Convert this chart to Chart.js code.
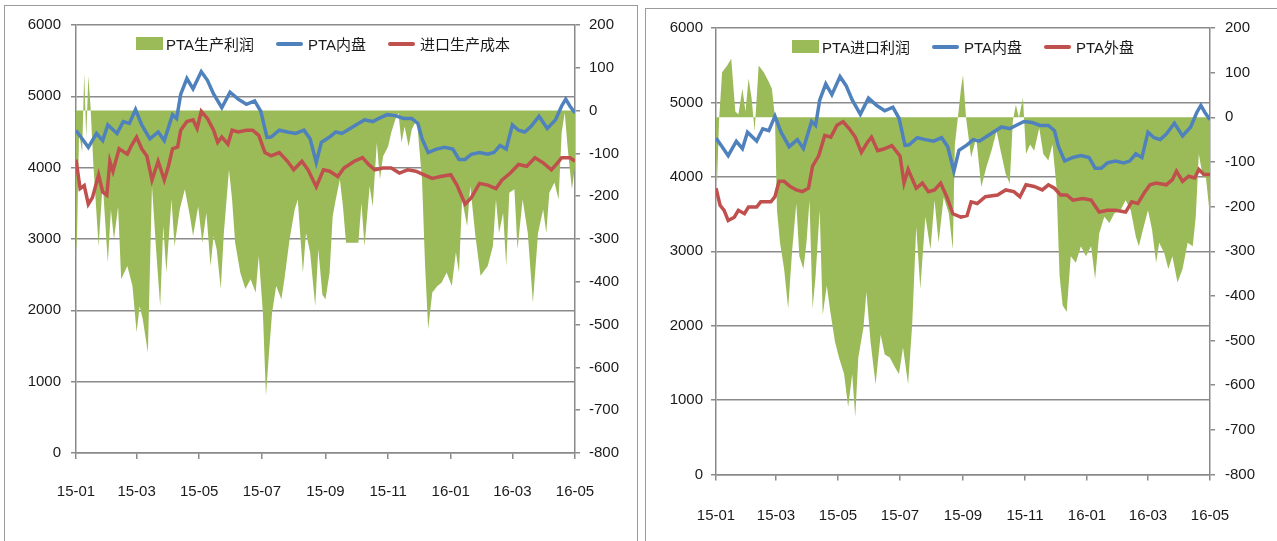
<!DOCTYPE html>
<html>
<head>
<meta charset="utf-8">
<script src="https://cdn.jsdelivr.net/npm/chart.js@4.4.1/dist/chart.umd.min.js"></script>
<style>
  body { margin: 0; background: #fff; width: 1277px; height: 541px; overflow: hidden; position: relative; }
  .panel { position: absolute; border: 1px solid #9a9a9a; box-sizing: border-box; }
  #p1 { left: 4px; top: 5px; width: 634px; height: 560px; }
  #p2 { left: 645px; top: 8px; width: 640px; height: 560px; }
  canvas { position: absolute; }
  #c1 { left: 5px; top: 6px; }
  #c2 { left: 646px; top: 9px; }
  .legend { position: absolute; display: flex; justify-content: center; align-items: center;
            font-family: 'Liberation Sans', 'Noto Sans CJK SC', sans-serif; font-size: 15px; color: #1a1a1a; white-space: nowrap; }
  #l1 { left: 76px; width: 494px; top: 33px; }
  #l2 { left: 716px; width: 494px; top: 36px; }
  .item { display: flex; align-items: center; margin: 0 11px; }
  .box { width: 27px; height: 13px; margin-right: 3px; }
  .line { width: 27px; height: 4px; border-radius: 2px; margin-right: 5px; }
</style>
</head>
<body>
<div class="panel" id="p1"></div>
<div class="panel" id="p2"></div>
<canvas id="c1" width="630" height="530"></canvas>
<canvas id="c2" width="629" height="532"></canvas>
<div class="legend" id="l1"></div>
<div class="legend" id="l2"></div>
<script>
// 横轴刻度
const monthTicks = ['2015-01-01', '2015-03-01', '2015-05-01', '2015-07-01', '2015-09-01', '2015-11-01', '2016-01-01', '2016-03-01', '2016-05-01'];
const monthLabels = ['15-01', '15-03', '15-05', '15-07', '15-09', '15-11', '16-01', '16-03', '16-05'];

// 日期: 距 2015-01-01 的天数
// PTA内盘 (两张图共用)
const neipanDays = [0, 6, 12, 20, 26, 31, 40, 46, 52, 58, 64, 72, 80, 86, 94, 98, 102, 108, 114, 122, 128, 134, 142, 150, 158, 166, 174, 180, 186, 190, 198, 206, 214, 222, 228, 234, 239, 247, 253, 259, 267, 275, 281, 289, 295, 303, 311, 319, 327, 333, 337, 343, 351, 359, 367, 373, 379, 385, 393, 401, 407, 413, 419, 425, 431, 437, 443, 451, 459, 467, 473, 477, 481, 486];
const neipanVals = [4520, 4405, 4285, 4478, 4380, 4600, 4480, 4646, 4620, 4815, 4600, 4405, 4500, 4380, 4743, 4690, 5030, 5250, 5105, 5347, 5225, 5034, 4840, 5057, 4960, 4888, 4935, 4790, 4424, 4430, 4525, 4500, 4480, 4525, 4405, 4074, 4356, 4430, 4500, 4480, 4550, 4620, 4670, 4646, 4690, 4743, 4730, 4690, 4690, 4620, 4405, 4212, 4260, 4285, 4260, 4116, 4116, 4188, 4212, 4188, 4212, 4310, 4260, 4600, 4525, 4500, 4575, 4720, 4550, 4670, 4865, 4960, 4865, 4768];

// 进口生产成本 (左图)
const costDays = [0, 4, 8, 12, 16, 22, 26, 30, 33, 36, 42, 50, 54, 59, 64, 69, 74, 80, 86, 90, 94, 99, 102, 108, 114, 118, 122, 128, 134, 138, 142, 148, 152, 158, 166, 172, 178, 184, 190, 198, 206, 212, 220, 226, 234, 241, 247, 255, 261, 271, 279, 285, 291, 299, 307, 315, 323, 331, 339, 347, 355, 365, 371, 379, 385, 393, 401, 409, 415, 423, 431, 439, 447, 455, 463, 469, 473, 481, 486];
const costVals = [4116, 3706, 3750, 3488, 3580, 3900, 3660, 3615, 4090, 3950, 4265, 4190, 4310, 4430, 4265, 4165, 3827, 4090, 3827, 4020, 4265, 4290, 4525, 4646, 4670, 4550, 4790, 4690, 4525, 4356, 4430, 4330, 4525, 4500, 4525, 4525, 4453, 4212, 4165, 4212, 4090, 3970, 4090, 3970, 3733, 3970, 3950, 3875, 3995, 4090, 4140, 4045, 3970, 3995, 3995, 3925, 3970, 3950, 3900, 3850, 3875, 3900, 3755, 3488, 3580, 3780, 3755, 3706, 3827, 3925, 4045, 4020, 4140, 4067, 3970, 4067, 4140, 4140, 4090];

// PTA生产利润 (左图, 右轴)
const profitDays = [0, 1, 3, 6, 8, 10, 12, 14, 17, 22, 26, 31, 34, 37, 41, 44, 50, 55, 59, 62, 65, 70, 74, 78, 82, 85, 88, 93, 96, 101, 106, 111, 114, 119, 123, 127, 131, 134, 137, 141, 144, 149, 152, 155, 160, 165, 170, 175, 178, 182, 185, 188, 191, 195, 200, 203, 208, 213, 216, 221, 224, 228, 233, 236, 240, 243, 247, 250, 253, 257, 260, 263, 270, 275, 278, 281, 286, 289, 293, 296, 299, 304, 307, 311, 314, 317, 320, 324, 327, 332, 337, 340, 343, 347, 352, 356, 361, 366, 370, 373, 376, 381, 384, 389, 394, 401, 406, 409, 412, 416, 419, 422, 427, 430, 435, 440, 445, 450, 455, 458, 461, 466, 470, 473, 476, 479, 483, 486];
const profitVals = [-330, -296, -52, -98, 88, -64, 80, 16, -130, -317, -169, -355, -231, -301, -224, -394, -363, -410, -518, -457, -487, -565, -177, -324, -457, -270, -378, -208, -317, -231, -184, -247, -293, -224, -309, -239, -363, -293, -324, -417, -286, -138, -208, -309, -378, -417, -394, -425, -340, -472, -667, -565, -472, -410, -441, -394, -301, -231, -208, -378, -286, -331, -457, -324, -430, -441, -378, -247, -208, -161, -224, -309, -309, -309, -216, -317, -177, -224, -75, -161, -107, -84, -52, -21, -5, -75, -37, -84, -44, -21, -161, -363, -511, -425, -410, -402, -378, -410, -331, -378, -208, -270, -177, -293, -386, -363, -317, -208, -286, -239, -363, -192, -184, -324, -208, -286, -449, -286, -231, -286, -192, -168, -208, -52, -5, -91, -184, -130];

// PTA外盘 (右图)
const waipanDays = [0, 4, 8, 12, 18, 22, 28, 32, 40, 44, 54, 58, 62, 67, 73, 79, 85, 91, 95, 101, 107, 113, 119, 125, 131, 137, 143, 149, 153, 159, 165, 173, 181, 185, 189, 197, 203, 209, 215, 221, 227, 233, 241, 247, 251, 257, 265, 277, 285, 293, 299, 305, 313, 321, 327, 333, 339, 345, 351, 361, 369, 377, 385, 393, 403, 409, 415, 421, 427, 433, 443, 449, 453, 459, 465, 471, 475, 480, 486];
const waipanVals = [3847, 3618, 3550, 3412, 3458, 3550, 3504, 3595, 3595, 3664, 3664, 3733, 3939, 3939, 3870, 3824, 3801, 3847, 4145, 4282, 4557, 4534, 4694, 4740, 4649, 4534, 4328, 4465, 4534, 4351, 4374, 4420, 4282, 3916, 4099, 3847, 3916, 3801, 3824, 3916, 3733, 3504, 3458, 3481, 3664, 3641, 3733, 3756, 3824, 3801, 3733, 3893, 3870, 3824, 3893, 3847, 3756, 3756, 3687, 3710, 3687, 3527, 3550, 3550, 3527, 3664, 3641, 3779, 3893, 3916, 3893, 3962, 4076, 3939, 4008, 3985, 4099, 4031, 4031];

// PTA进口利润 (右图, 右轴)
const importDays = [0, 1, 3, 6, 11, 15, 19, 22, 26, 29, 32, 35, 38, 42, 47, 52, 55, 58, 60, 63, 67, 71, 75, 79, 82, 86, 89, 92, 95, 98, 102, 105, 109, 112, 117, 121, 126, 130, 134, 137, 140, 145, 148, 152, 157, 162, 166, 171, 176, 180, 184, 189, 193, 197, 201, 206, 211, 215, 219, 224, 229, 233, 235, 238, 241, 243, 246, 251, 256, 261, 266, 271, 276, 280, 285, 289, 292, 295, 298, 302, 305, 309, 313, 318, 322, 327, 331, 335, 338, 341, 345, 349, 354, 359, 364, 369, 373, 377, 382, 387, 392, 398, 403, 408, 413, 416, 420, 425, 429, 433, 436, 441, 445, 449, 454, 459, 464, 469, 472, 475, 479, 482, 486];
const importVals = [-90, -149, -8, 101, 116, 131, 13, 6, 64, 13, 87, 43, -31, 116, 101, 79, 64, 0, -208, -281, -340, -428, -296, -193, -311, -340, -281, -186, -428, -355, -208, -443, -377, -428, -502, -538, -575, -649, -575, -671, -538, -472, -391, -502, -598, -487, -531, -538, -560, -575, -516, -598, -465, -245, -384, -223, -296, -186, -281, -179, -215, -296, -61, 0, 64, 94, -1, -90, -46, -156, -112, -75, -31, -75, -127, -149, -9, 28, -1, 43, -82, -61, -75, -24, -82, -97, -61, -156, -355, -421, -436, -311, -326, -289, -311, -289, -362, -260, -223, -237, -215, -208, -186, -208, -267, -289, -252, -208, -252, -326, -281, -304, -340, -311, -370, -340, -281, -289, -223, -82, -134, -134, -223];

const VERDE = '#9BBB59', AZUL = '#4F81BD', VERMELHO = '#C0504D', GRADE = '#8a8a8a';
const FONTE = { family: "'Liberation Sans', sans-serif", size: 15 };

const dayOf = s => (Date.UTC(+s.slice(0, 4), +s.slice(5, 7) - 1, +s.slice(8, 10)) - Date.UTC(2015, 0, 1)) / 864e5;
const tickDays = monthTicks.map(dayOf);
const pts = (xs, ys) => xs.map((x, i) => ({ x: x, y: ys[i] }));

function initChart(id, profitLabel, profitX, profitY, redLabel, redX, redY, layout) {
    const ctx = document.getElementById(id).getContext('2d');
    return new Chart(ctx, {
        type: 'line',
        data: {
            datasets: [
                { label: profitLabel, data: pts(profitX, profitY), yAxisID: 'y1', fill: 'origin',
                  backgroundColor: VERDE, borderWidth: 0, pointRadius: 0, order: 3 },
                { label: 'PTA内盘', data: pts(neipanDays, neipanVals), yAxisID: 'y', fill: false,
                  borderColor: AZUL, borderWidth: 3.5, pointRadius: 0, order: 1 },
                { label: redLabel, data: pts(redX, redY), yAxisID: 'y', fill: false,
                  borderColor: VERMELHO, borderWidth: 3.5, pointRadius: 0, order: 2 }
            ]
        },
        options: {
            responsive: false,
            animation: false,
            devicePixelRatio: 1,
            layout: { padding: { top: layout.top, left: 0, right: 0, bottom: 0 } },
            plugins: { legend: { display: false }, tooltip: { enabled: false } },
            scales: {
                x: {
                    type: 'linear', min: 0, max: 486,
                    grid: { drawOnChartArea: false, tickLength: 6, color: GRADE, lineWidth: 1.5 },
                    border: { color: GRADE, width: 1.5 },
                    ticks: { font: FONTE, color: '#1a1a1a', padding: layout.xPad, maxRotation: 0, autoSkip: false,
                             callback: v => monthLabels[tickDays.indexOf(v)] },
                    afterBuildTicks: s => { s.ticks = tickDays.map(v => ({ value: v })); },
                    afterFit: s => { s.height = layout.xH; }
                },
                y: {
                    position: 'left', min: 0, max: 6000,
                    grid: { color: GRADE, lineWidth: 1.5, tickLength: 5 },
                    border: { color: GRADE, width: 1.5 },
                    ticks: { stepSize: 1000, font: FONTE, color: '#1a1a1a', padding: layout.yPad, callback: v => String(v) },
                    afterFit: s => { s.width = layout.yW; }
                },
                y1: {
                    position: 'right', min: -800, max: 200,
                    grid: { drawOnChartArea: false, color: GRADE, lineWidth: 1.5, tickLength: 5 },
                    border: { color: GRADE, width: 1.5 },
                    ticks: { stepSize: 100, font: FONTE, color: '#1a1a1a', padding: layout.y1Pad, callback: v => String(v) },
                    afterFit: s => { s.width = layout.y1W; }
                }
            }
        }
    });
}

// legenda em HTML, por cima da área do gráfico
function buildLegend(id, chart) {
    const el = document.getElementById(id);
    chart.data.datasets.forEach((ds, i) => {
        const item = document.createElement('div');
        item.className = 'item';
        const mark = document.createElement('span');
        mark.className = i === 0 ? 'box' : 'line';
        mark.style.background = i === 0 ? ds.backgroundColor : ds.borderColor;
        const txt = document.createElement('span');
        txt.textContent = ds.label;
        item.appendChild(mark);
        item.appendChild(txt);
        el.appendChild(item);
    });
}

const chart1 = initChart('c1', 'PTA生产利润', profitDays, profitVals, '进口生产成本', costDays, costVals,
    { top: 18, xH: 83, xPad: 24, yW: 71, yPad: 10, y1W: 60, y1Pad: 9 });
const chart2 = initChart('c2', 'PTA进口利润', importDays, importVals, 'PTA外盘', waipanDays, waipanVals,
    { top: 13.5, xH: 66.5, xPad: 26, yW: 70, yPad: 8, y1W: 65, y1Pad: 10 });

buildLegend('l1', chart1);
buildLegend('l2', chart2);
</script>
</body>
</html>
